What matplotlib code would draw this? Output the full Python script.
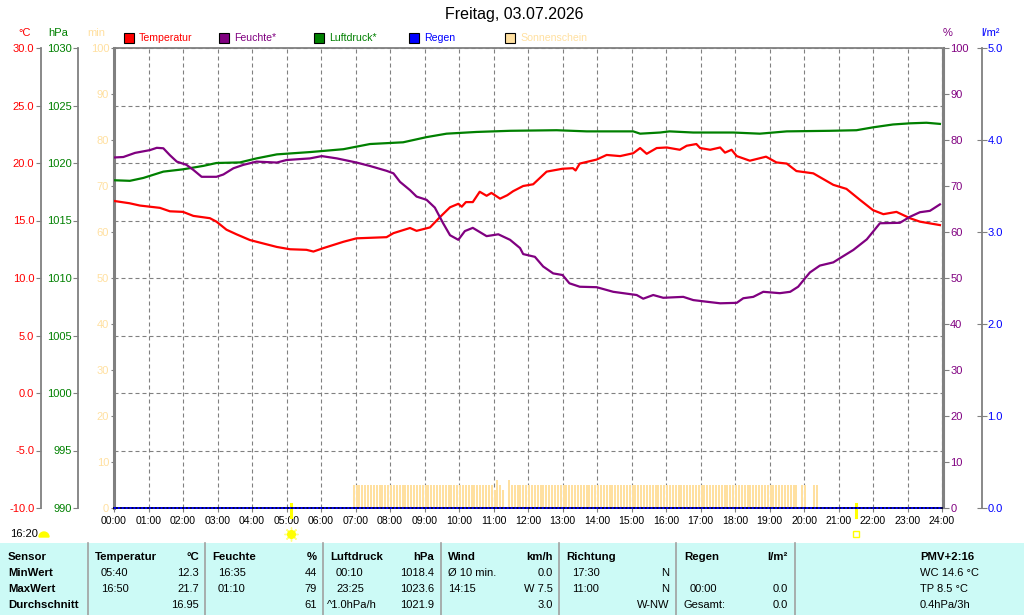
import numpy as np
import matplotlib.pyplot as plt
from matplotlib.patches import Rectangle, Wedge
from matplotlib.lines import Line2D

# -----------------------------
# Data
# -----------------------------
temp_hours = [0.0, 0.45, 0.75, 1.33, 1.62, 2.0, 2.3, 2.78, 2.97, 3.26, 3.55, 3.94,
              4.33, 4.72, 5.1, 5.58, 5.78, 6.07, 6.65, 7.03, 7.9, 8.1, 8.58, 8.77,
              9.16, 9.45, 9.74, 9.98, 10.08, 10.2, 10.4, 10.6, 10.8, 10.94, 11.19,
              11.4, 11.57, 11.86, 12.15, 12.54, 13.0, 13.3, 13.38, 13.5, 13.99,
              14.28, 14.67, 15.05, 15.25, 15.44, 15.73, 16.02, 16.4, 16.6, 16.88,
              16.99, 17.28, 17.57, 17.71, 17.9, 18.05, 18.43, 18.9, 19.2, 19.5,
              19.78, 20.27, 20.85, 21.23, 21.62, 22.0, 22.3, 22.68, 23.07, 23.36,
              23.94]
temp_values = [16.7, 16.5, 16.3, 16.1, 15.8, 15.75, 15.4, 15.2, 14.9, 14.2, 13.8, 13.3,
               13.0, 12.7, 12.5, 12.45, 12.3, 12.6, 13.15, 13.45, 13.55, 13.9, 14.35, 14.1,
               14.4, 15.3, 16.15, 16.45, 16.2, 16.6, 16.6, 17.5, 17.15, 17.4, 16.9,
               17.2, 17.55, 18.0, 18.15, 19.25, 19.5, 19.55, 19.35, 19.95, 20.3,
               20.7, 20.6, 20.85, 21.3, 20.8, 21.3, 21.35, 21.15, 21.5, 21.65,
               21.3, 21.15, 21.35, 20.9, 21.15, 20.6, 20.2, 20.55, 20.05, 19.95,
               19.3, 19.1, 18.1, 17.75, 16.8, 15.9, 15.55, 15.75, 15.2, 14.9,
               14.6]

hum_hours = [0.0, 0.27, 0.61, 1.04, 1.24, 1.43, 1.62, 1.82, 2.1, 2.3, 2.54, 2.97,
             3.17, 3.46, 3.75, 4.13, 4.72, 5.0, 5.68, 6.02, 6.46, 7.03, 7.42, 7.9,
             8.1, 8.29, 8.58, 8.77, 9.06, 9.3, 9.54, 9.74, 9.98, 10.17, 10.4, 10.8,
             11.14, 11.48, 11.77, 11.86, 12.2, 12.44, 12.73, 13.0, 13.2, 13.5, 13.99,
             14.47, 15.15, 15.34, 15.63, 15.92, 16.5, 16.79, 17.17, 17.57, 18.05,
             18.24, 18.53, 18.82, 19.3, 19.6, 19.83, 20.17, 20.46, 20.85, 21.04,
             21.43, 21.82, 22.2, 22.78, 23.07, 23.36, 23.65, 23.94]
hum_values = [76.2, 76.3, 77.2, 77.8, 78.3, 78.2, 76.7, 75.3, 74.6, 73.5, 72.0, 72.0,
              72.5, 73.85, 74.6, 75.3, 75.1, 75.65, 76.0, 76.5, 76.0, 75.1, 74.35, 73.3,
              72.75, 70.9, 69.1, 67.7, 67.0, 65.3, 61.9, 59.3, 58.3, 60.2, 60.9, 59.1,
              59.5, 58.3, 56.5, 55.2, 54.6, 52.5, 51.0, 50.65, 48.85, 48.1, 48.0,
              47.0, 46.3, 45.5, 46.3, 45.7, 45.9, 45.2, 44.85, 44.5, 44.6,
              45.6, 45.9, 47.0, 46.7, 47.0, 48.1, 51.2, 52.7, 53.4, 54.3,
              56.1, 58.4, 61.9, 62.0, 63.3, 64.3, 64.6, 66.0]

press_hours = [0.0, 0.46, 0.85, 1.43, 2.0, 2.59, 2.97, 3.65, 4.13, 4.72, 5.68, 6.65,
               7.42, 8.38, 9.06, 9.64, 10.51, 11.48, 12.83, 13.7, 15.05, 15.25,
               15.83, 16.1, 16.79, 17.95, 18.72, 19.5, 20.75, 21.52, 22.0, 22.58,
               23.07, 23.55, 23.94]
press_values = [1018.5, 1018.45, 1018.7, 1019.25, 1019.45, 1019.75, 1020.0, 1020.05,
                1020.4, 1020.75, 1020.95, 1021.2, 1021.65, 1021.8, 1022.25, 1022.55,
                1022.7, 1022.8, 1022.85, 1022.75, 1022.75, 1022.55, 1022.65, 1022.75,
                1022.65, 1022.65, 1022.55, 1022.75, 1022.8, 1022.85, 1023.1, 1023.35,
                1023.45, 1023.5, 1023.4]

# sunshine minutes per 5-minute slot, first slot 06:55
sun_first_slot = 6 + 55 / 60
sun_minutes = [
    5,
    5, 5, 5, 5, 5, 5, 5, 5, 5, 5, 5, 5,   # 07
    5, 5, 5, 5, 5, 5, 5, 5, 5, 5, 5, 5,   # 08
    5, 5, 5, 5, 5, 5, 5, 5, 5, 5, 5, 5,   # 09
    5, 5, 5, 5, 5, 5, 5, 5, 5, 5, 5, 5,   # 10
    4, 6, 5, 4, 0, 6, 5, 5, 5, 5, 5, 5,   # 11
    5, 5, 5, 5, 5, 5, 5, 5, 5, 5, 5, 5,   # 12
    5, 5, 5, 5, 5, 5, 5, 5, 5, 5, 5, 5,   # 13
    5, 5, 5, 5, 5, 5, 5, 5, 5, 5, 5, 5,   # 14
    5, 5, 5, 5, 5, 5, 5, 5, 5, 5, 5, 5,   # 15
    5, 5, 5, 5, 5, 5, 5, 5, 5, 5, 5, 5,   # 16
    5, 5, 5, 5, 5, 5, 5, 5, 5, 5, 5, 5,   # 17
    5, 5, 5, 5, 5, 5, 5, 5, 5, 5, 5, 5,   # 18
    5, 5, 5, 5, 5, 5, 5, 5, 5, 5, 0, 5,   # 19
    5, 0, 0, 5, 5,                        # 20
]

rain_hours = [0.0, 24.0]
rain_values = [0.0, 0.0]

hour_labels = ["%02d:00" % h for h in range(25)]
sunrise = 5.12
sunset = 21.5

title = "Freitag, 03.07.2026"

# -----------------------------
# Colours
# -----------------------------
RED = "#ff0000"
PURPLE = "#800080"
GREEN = "#008000"
BLUE = "#0000ff"
SUN = "#ffe0a0"
GRAY = "#808080"
CYAN = "#ccfaf6"

W, H = 1024, 615
plt.rcParams['font.family'] = ['Liberation Sans', 'DejaVu Sans']

fig = plt.figure(figsize=(W / 100, H / 100), dpi=100)

x0, x1, y0, y1 = 114, 942, 48, 508
rect = [x0 / W, 1 - y1 / H, (x1 - x0) / W, (y1 - y0) / H]


def ftext(x, y, s, **kw):
    kw.setdefault("va", "center")
    kw.setdefault("fontsize", 8)
    fig.text(x / W, 1 - y / H, s, **kw)


# -----------------------------
# Main axis: sunshine (min)
# -----------------------------
ax = fig.add_axes(rect)
ax.set_xlim(0, 24)
ax.set_ylim(0, 100)
ax.set_facecolor("white")

sun_x = sun_first_slot + np.arange(len(sun_minutes)) * 5 / 60
ax.bar(sun_x, sun_minutes, width=5 / 60 * 0.72, align="edge",
       color=SUN, linewidth=0, zorder=2)

ax.set_xticks(range(25))
ax.set_xticklabels(hour_labels)
ax.set_yticks(range(0, 101, 10))
ax.tick_params(axis="x", direction="out", length=3, width=0.8, color=GRAY,
               labelcolor="black", labelsize=7.6, pad=2.5)
ax.tick_params(axis="y", direction="out", length=2.5, width=0.8, color=GRAY,
               labelcolor=SUN, labelsize=8, pad=1)
ax.grid(axis="x", color=GRAY, linestyle=(0, (3.6, 2.7)), linewidth=0.8)
ax.set_axisbelow(True)
ax.spines["left"].set_color(GRAY)
ax.spines["left"].set_linewidth(2.2)
ax.spines["top"].set_color(GRAY)
ax.spines["top"].set_linewidth(1.3)
ax.spines["right"].set_color(GRAY)
ax.spines["right"].set_linewidth(0.8)
ax.spines["bottom"].set_visible(False)

# sunrise / sunset markers
trans = ax.get_xaxis_transform()
for t in (sunrise, sunset):
    ax.plot([t, t], [-0.02, 0.009], transform=trans, color="#ffff00",
            lw=2.2, clip_on=False, zorder=5)
ax.plot([sunrise], [-0.057], transform=trans, marker=(8, 2, 0), ms=10,
        mec="#ffff80", mew=1, clip_on=False)
ax.plot([sunrise], [-0.057], transform=trans, marker="o", ms=5.5,
        mfc="#ffff00", mec="#ffff00", clip_on=False)
ax.plot([sunset], [-0.057], transform=trans, marker="s", ms=4.5,
        mfc="none", mec="#ffff00", mew=1, clip_on=False)


def make_twin(lo, hi, ticks, side, position, color, lw, tick_dir="out",
              tick_len=3.5, fmt=None):
    a = ax.twinx()
    a.set_ylim(lo, hi)
    a.set_yticks(ticks)
    for s in ("top", "bottom", "left", "right"):
        a.spines[s].set_visible(False)
    a.spines[side].set_visible(True)
    a.spines[side].set_position(position)
    a.spines[side].set_color(GRAY)
    a.spines[side].set_linewidth(lw)
    if side == "left":
        a.yaxis.tick_left()
    else:
        a.yaxis.tick_right()
    a.tick_params(axis="y", direction=tick_dir, length=tick_len, width=0.8,
                  color=GRAY, labelcolor=color, labelsize=8, pad=1)
    if fmt:
        a.set_yticklabels([fmt % v for v in ticks])
    return a


# temperature
ax_t = make_twin(-10, 30, np.arange(-10, 31, 5), "left",
                 ("axes", -73.5 / 828), RED, 1.3, fmt="%.1f")
ax_t.grid(axis="y", color=GRAY, linestyle=(0, (3.6, 2.7)), linewidth=0.8)
ax_t.set_axisbelow(True)
ax_t.plot(temp_hours, temp_values, color=RED, lw=1.6, zorder=3)

# rain
ax_r = make_twin(0, 5, np.arange(0, 6, 1), "right",
                 ("axes", (981.5 - 114) / 828), BLUE, 1.3,
                 tick_dir="inout", tick_len=6.5, fmt="%.1f")
ax_r.plot(rain_hours, rain_values, color="#000040", lw=1.4, clip_on=False)
ax_r.plot(rain_hours, rain_values, color=BLUE, lw=1.4, linestyle=(0, (1, 1)),
          clip_on=False)

# pressure
ax_p = make_twin(990, 1030, np.arange(990, 1031, 5), "left",
                 ("axes", -36 / 828), GREEN, 1.3)
ax_p.plot(press_hours, press_values, color=GREEN, lw=1.6)

# humidity
ax_h = make_twin(0, 100, np.arange(0, 101, 10), "right",
                 ("outward", 1.4), PURPLE, 1.5)
ax_h.plot(hum_hours, hum_values, color=PURPLE, lw=1.6)

# -----------------------------
# Title, units, legend
# -----------------------------
ftext(514, 15, title, ha="center", fontsize=11.5)

ftext(25, 33, "°C", ha="center", color=RED)
ftext(58, 33, "hPa", ha="center", color=GREEN)
ftext(96, 33, "min", ha="center", color=SUN)
ftext(948, 33, "%", ha="center", color=PURPLE)
ftext(990, 33, "l/m²", ha="center", color=BLUE)

legend = [("Temperatur", RED, 124), ("Feuchte*", PURPLE, 219),
          ("Luftdruck*", GREEN, 314), ("Regen", BLUE, 409),
          ("Sonnenschein", SUN, 505)]
for name, col, lx in legend:
    fig.patches.append(Rectangle((lx / W, 1 - 43 / H), 10 / W, 10 / H,
                                 transform=fig.transFigure, facecolor=col,
                                 edgecolor="black", linewidth=0.8))
    ftext(lx + 15, 38, name, color=col, fontsize=7.6)

# day length
ftext(10, 534, "16:20", fontsize=8)
fig.patches.append(Wedge((0.44, (H - 537) / 100), 0.05, 0, 180,
                         transform=fig.dpi_scale_trans, color="#ffff00"))

# -----------------------------
# Table
# -----------------------------
fig.patches.append(Rectangle((0, 0), 1, 72 / H, transform=fig.transFigure,
                             facecolor=CYAN, edgecolor="none"))
for sx in (88, 205, 323, 441, 559, 676, 795):
    fig.add_artist(Line2D([sx / W, sx / W], [0, 72 / H], color="#a0a0a0",
                          lw=1.2, transform=fig.transFigure))

rows_y = [557, 572.5, 588.5, 605]
bold = dict(fontweight="bold", fontsize=8.2)

for y, s in zip(rows_y, ["Sensor", "MinWert", "MaxWert", "Durchschnitt"]):
    ftext(8, y, s, **bold)

columns = [
    (95, 199, "Temperatur", "°C", ["05:40", "16:50", ""], ["12.3", "21.7", "16.95"], 6),
    (212, 317, "Feuchte", "%", ["16:35", "01:10", ""], ["44", "79", "61"], 6),
    (330, 434, "Luftdruck", "hPa", ["00:10", "23:25", "^1.0hPa/h"], ["1018.4", "1023.6", "1021.9"], 6),
    (448, 553, "Wind", "km/h", ["Ø 10 min.", "14:15", ""], ["0.0", "W 7.5", "3.0"], 0),
    (566, 669, "Richtung", "", ["17:30", "11:00", ""], ["N", "N", "W-NW"], 6),
    (684, 788, "Regen", "l/m²", ["", "00:00", "Gesamt:"], ["", "0.0", "0.0"], 6),
]
for lx, rx, head, unit, lefts, rights, indent in columns:
    ftext(lx, rows_y[0], head, **bold)
    ftext(rx, rows_y[0], unit, ha="right", **bold)
    for y, l, r in zip(rows_y[1:], lefts, rights):
        if l.startswith("^"):
            ind = -3
        elif l.startswith("G"):
            ind = 0
        else:
            ind = indent
        ftext(lx + ind, y, l)
        ftext(rx, y, r, ha="right")

ftext(920, rows_y[0], "PMV+2:16", **bold)
ftext(920, rows_y[1], "WC 14.6 °C")
ftext(920, rows_y[2], "TP 8.5 °C")
ftext(920, rows_y[3], "0.4hPa/3h")

plt.savefig("out.png", dpi=100)
